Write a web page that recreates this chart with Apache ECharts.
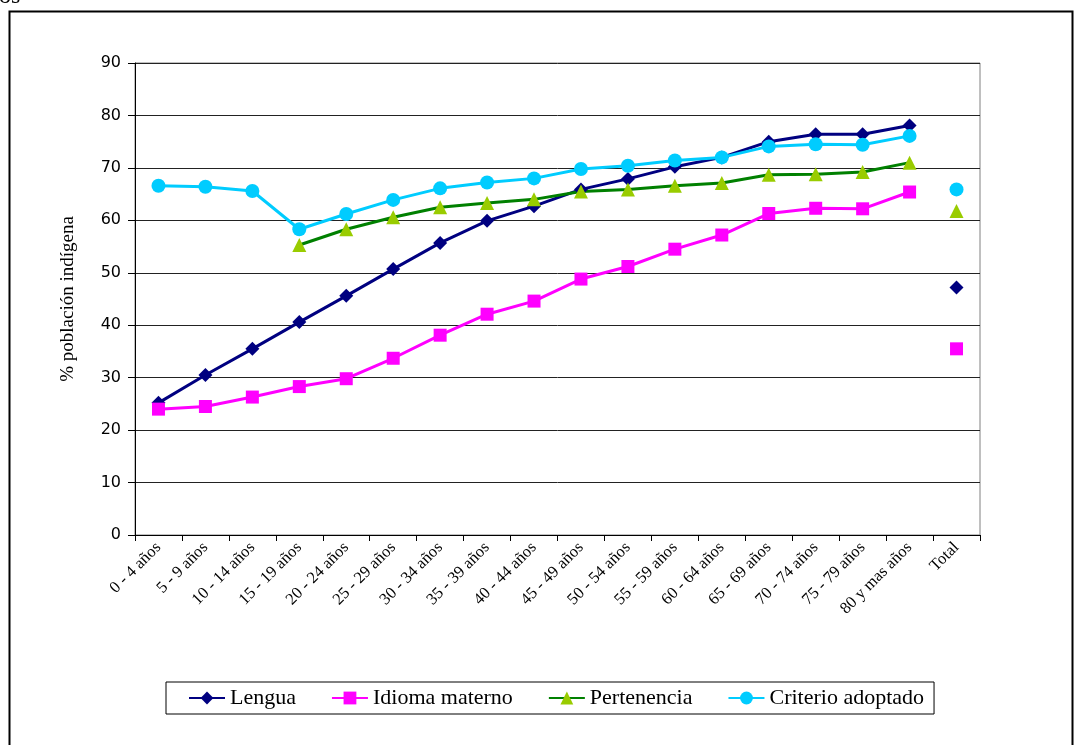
<!DOCTYPE html>
<html>
<head>
<meta charset="utf-8">
<script src="https://cdn.jsdelivr.net/npm/echarts@6/dist/echarts.min.js"></script>
<style>
  html, body { margin: 0; padding: 0; background: #fff; }
  #chart { width: 1075px; height: 745px; }
</style>
</head>
<body>
<div id="chart"></div>
<script>
// Age groups plus the overall total
const categories = ['0 - 4 años', '5 - 9 años', '10 - 14 años', '15 - 19 años', '20 - 24 años',
  '25 - 29 años', '30 - 34 años', '35 - 39 años', '40 - 44 años', '45 - 49 años', '50 - 54 años',
  '55 - 59 años', '60 - 64 años', '65 - 69 años', '70 - 74 años', '75 - 79 años', '80 y mas años', 'Total'];

// Percentages by age group (the Total is drawn as a loose point)
const lengua = [25.2, 30.5, 35.5, 40.6, 45.6, 50.7, 55.7, 59.9, 62.7, 65.9, 67.9, 70.2, 72.0, 75.0, 76.4, 76.4, 78.1];
const idiomaMaterno = [24.0, 24.5, 26.3, 28.3, 29.8, 33.7, 38.1, 42.1, 44.6, 48.8, 51.2, 54.5, 57.2, 61.3, 62.3, 62.2, 65.4];
const pertenencia = [null, null, null, 55.3, 58.3, 60.6, 62.5, 63.3, 64.0, 65.5, 65.9, 66.6, 67.1, 68.7, 68.8, 69.2, 71.0];
const criterioAdoptado = [66.6, 66.4, 65.6, 58.3, 61.2, 63.9, 66.1, 67.2, 68.0, 69.8, 70.4, 71.4, 72.0, 74.1, 74.5, 74.4, 76.1];

const totals = { lengua: 47.2, idiomaMaterno: 35.5, pertenencia: 61.8, criterioAdoptado: 65.9 };

const yTicks = { min: 0, max: 90, interval: 10 };

const serif = 'Liberation Serif, Times New Roman, serif';

const seriesDefs = [
  { name: 'Lengua', data: lengua, total: totals.lengua, line: '#000080', fill: '#000080', symbol: 'diamond', size: 14 },
  { name: 'Idioma materno', data: idiomaMaterno, total: totals.idiomaMaterno, line: '#FF00FF', fill: '#FF00FF', symbol: 'rect', size: 13 },
  { name: 'Pertenencia', data: pertenencia, total: totals.pertenencia, line: '#008000', fill: '#99CC00', symbol: 'triangle', size: 14 },
  { name: 'Criterio adoptado', data: criterioAdoptado, total: totals.criterioAdoptado, line: '#00CCFF', fill: '#00CCFF', symbol: 'circle', size: 14 }
];

const series = [];
seriesDefs.forEach(d => {
  series.push({
    name: d.name,
    type: 'line',
    data: d.data,
    symbol: d.symbol,
    symbolSize: d.size,
    showAllSymbol: true,
    connectNulls: false,
    lineStyle: { color: d.line, width: 3 },
    itemStyle: { color: d.fill, borderWidth: 0, opacity: 1 },
    emphasis: { disabled: true },
    z: 2
  });
  const totalData = categories.map((c, i) => (i === categories.length - 1 ? d.total : null));
  series.push({
    name: d.name + ' (Total)',
    type: 'scatter',
    data: totalData,
    symbol: d.symbol,
    symbolSize: d.size,
    itemStyle: { color: d.fill, opacity: 1 },
    emphasis: { disabled: true },
    z: 3
  });
});

const chart = echarts.init(document.getElementById('chart'), null, { renderer: 'canvas' });
chart.setOption({
  animation: false,
  backgroundColor: '#fff',
  graphic: [
    { type: 'rect', shape: { x: 9.5, y: 11.5, width: 1063, height: 760 },
      style: { fill: 'none', stroke: '#000', lineWidth: 2 }, silent: true },
    { type: 'text', left: -1, top: -15, style: { text: 'os', font: '24px ' + serif, fill: '#000' }, silent: true }
  ],
  grid: { left: 135, right: 95, top: 63, bottom: 210, show: true, borderColor: '#808080', borderWidth: 1, backgroundColor: '#fff' },
  legend: {
    data: seriesDefs.map(d => d.name),
    left: 166,
    top: 682,
    padding: [5, 10, 5, 22],
    itemGap: 35,
    itemWidth: 36,
    itemHeight: 16,
    borderColor: '#000',
    borderWidth: 1,
    textStyle: { fontFamily: serif, fontSize: 22, color: '#000' }
  },
  xAxis: {
    type: 'category',
    data: categories,
    boundaryGap: true,
    axisLine: { lineStyle: { color: '#000', width: 1 } },
    axisTick: { show: true, length: 6, lineStyle: { color: '#000' } },
    axisLabel: { interval: 0, rotate: 45, fontFamily: serif, fontSize: 16.5, color: '#000', margin: 10 },
    splitLine: { show: false }
  },
  yAxis: {
    type: 'value',
    min: yTicks.min,
    max: yTicks.max,
    interval: yTicks.interval,
    name: '% población indígena',
    nameLocation: 'middle',
    nameGap: 57,
    nameTextStyle: { fontFamily: serif, fontSize: 19, color: '#000' },
    axisLine: { show: true, lineStyle: { color: '#000', width: 1 } },
    axisTick: { show: true, length: 7, lineStyle: { color: '#000' } },
    axisLabel: { fontFamily: 'DejaVu Sans, Verdana, sans-serif', fontSize: 16, color: '#000', margin: 14 },
    splitLine: { show: true, lineStyle: { color: '#222', width: 1 } }
  },
  series: series
});
</script>
</body>
</html>
